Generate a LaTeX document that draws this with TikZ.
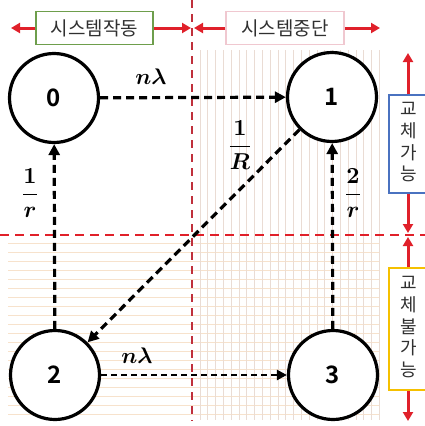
\documentclass[tikz,border=0pt]{standalone}
\usepackage{fontspec}
\usepackage{graphicx}
\usepackage{amsmath}
\usepackage{bm}
\usetikzlibrary{arrows.meta}
\newfontfamily\kr{Noto Sans CJK KR}
\newfontfamily\krb{Noto Sans CJK KR Bold}
\definecolor{redline}{HTML}{E0202A}
\definecolor{darkred}{HTML}{C0303C}
\definecolor{gridv}{HTML}{EADCD4}
\definecolor{gridh}{HTML}{F7E2CC}
\definecolor{boxgreen}{HTML}{6E9E4C}
\definecolor{boxpink}{HTML}{F0C8D0}
\definecolor{boxblue}{HTML}{4A72C0}
\definecolor{boxyellow}{HTML}{F5C000}
\definecolor{tagtext}{HTML}{303030}
\tikzset{
  state/.style={circle, draw=black, line width=3.2pt, minimum size=89pt, inner sep=0pt,
    font=\krb\fontsize{24}{26}\selectfont, fill=white},
  trans/.style={line width=3.2pt, dash pattern=on 8pt off 5pt,
    -{Triangle[length=11pt,width=11pt]}},
  transthin/.style={line width=2.4pt, dash pattern=on 6pt off 4pt,
    -{Triangle[length=10pt,width=10pt]}},
  lab/.style={inner sep=0pt},
  tag/.style={draw, line width=1.5pt, fill=white, inner sep=0pt, text=tagtext,
    font=\kr\fontsize{19}{21}\selectfont},
  vtag/.style={tag, font=\kr\fontsize{18}{20}\selectfont},
  redarrow/.style={draw=redline, line width=3pt, -{Triangle[length=9pt,width=10pt]}},
}
\newcommand{\biglab}[1]{\scalebox{2.25}{$\bm{#1}$}}
\newcommand{\bigfrac}[2]{\scalebox{2.3}{$\displaystyle\bm{\frac{#1}{#2}}$}}
\begin{document}
\begin{tikzpicture}[x=1pt,y=-1pt]
\useasboundingbox (0,0) rectangle (425,426);
% grid
\foreach \yy in {243,252,...,420} \draw[gridh, line width=0.8pt] (8,\yy) -- (380,\yy);
\foreach \xx in {200,207.8,...,380} \draw[gridv, line width=0.8pt] (\xx,50) -- (\xx,420);
% red separators
\draw[darkred, line width=2pt, dash pattern=on 8pt off 6pt] (192,0) -- (192,421);
\draw[redline, line width=2.2pt, dash pattern=on 9pt off 6pt] (0,235) -- (425,235);
% top tags
\node[tag, draw=boxgreen, minimum width=117pt, minimum height=33pt] (t1) at (94.5,28) {시스템작동};
\node[tag, draw=boxpink, minimum width=118pt, minimum height=33pt] (t2) at (285,28) {시스템중단};
\coordinate (a1) at (11,28);
\coordinate (a2) at (191,28);
\coordinate (a3) at (194,28);
\coordinate (a4) at (380,28);
\draw[redarrow] (t1.west) -- (a1);
\draw[redarrow] (t1.east) -- (a2);
\draw[redarrow] (t2.west) -- (a3);
\draw[redarrow] (t2.east) -- (a4);
% right tags
\node[vtag, draw=boxblue, minimum width=40pt, minimum height=98pt, anchor=west] (r1) at (388,144)
  {\begin{tabular}{@{}c@{}}교\\[1pt]체\\[1pt]가\\[1pt]능\end{tabular}};
\node[vtag, draw=boxyellow, minimum width=40pt, minimum height=122pt, anchor=west] (r2) at (388,329)
  {\begin{tabular}{@{}c@{}}교\\[1pt]체\\[1pt]불\\[1pt]가\\[1pt]능\end{tabular}};
\coordinate (b1) at (408,53);
\coordinate (b2) at (408,233);
\coordinate (b3) at (408,237);
\coordinate (b4) at (408,421);
\draw[redarrow] (r1.north -| b1) -- (b1);
\draw[redarrow] (r1.south -| b2) -- (b2);
\draw[redarrow] (r2.north -| b3) -- (b3);
\draw[redarrow] (r2.south -| b4) -- (b4);
% states
\node[state] (n0) at (54,98) {0};
\node[state] (n1) at (332,97) {1};
\node[state] (n2) at (55,375) {2};
\node[state] (n3) at (333,375) {3};
% transitions
\draw[trans] (n0) -- (n1);
\draw[trans] (n2) -- (n0);
\draw[trans] (n3) -- (n1);
\draw[trans] (n1) -- (n2);
\draw[transthin] (n2) -- (n3);
% labels
\node[lab] (l01) at (151,77) {\biglab{n\lambda}};
\node[lab] (l23) at (137,356) {\biglab{n\lambda}};
\node[lab] (l20) at (30,193) {\bigfrac{1}{r}};
\node[lab] (l31) at (353,193) {\bigfrac{2}{r}};
\node[lab] (l12) at (240,145) {\bigfrac{1}{R}};
\end{tikzpicture}
\end{document}
